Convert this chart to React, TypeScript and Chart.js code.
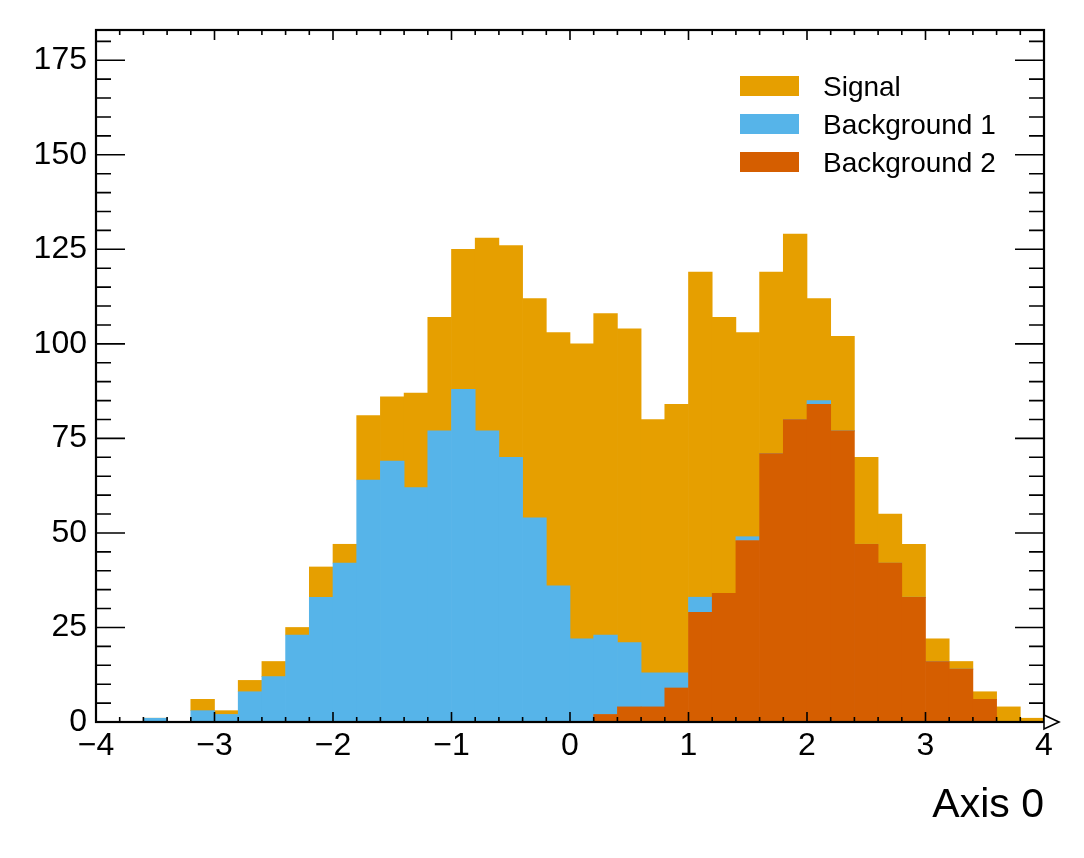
import { useEffect, useRef } from "react";
import { Chart, registerables } from "chart.js";

Chart.register(...registerables);

// bin centres of the 40 bins from -4 to 4
const binCenters = [
  -3.9, -3.7, -3.5, -3.3, -3.1, -2.9, -2.7, -2.5, -2.3, -2.1,
  -1.9, -1.7, -1.5, -1.3, -1.1, -0.9, -0.7, -0.5, -0.3, -0.1,
  0.1, 0.3, 0.5, 0.7, 0.9, 1.1, 1.3, 1.5, 1.7, 1.9,
  2.1, 2.3, 2.5, 2.7, 2.9, 3.1, 3.3, 3.5, 3.7, 3.9,
];

const background2 = [
  0, 0, 0, 0, 0, 0, 0, 0, 0, 0,
  0, 0, 0, 0, 0, 0, 0, 0, 0, 0,
  0, 2, 4, 4, 9, 29, 34, 48, 71, 80,
  84, 77, 47, 42, 33, 16, 14, 6, 0, 0,
];

const background1 = [
  0, 0, 1, 0, 3, 2, 8, 12, 23, 33,
  42, 64, 69, 62, 77, 88, 77, 70, 54, 36,
  22, 21, 17, 9, 4, 4, 0, 1, 0, 0,
  1, 0, 0, 0, 0, 0, 0, 0, 0, 0,
];

const signal = [
  0, 0, 0, 0, 3, 1, 3, 4, 2, 8,
  5, 17, 17, 25, 30, 37, 51, 56, 58, 67,
  78, 85, 83, 67, 71, 86, 73, 54, 48, 49,
  27, 25, 23, 13, 14, 6, 2, 2, 4, 1,
];

const xMajorTicks = [-4, -3, -2, -1, 0, 1, 2, 3, 4];
const yMajorTicks = [0, 25, 50, 75, 100, 125, 150, 175];
const yMax = 183;

const FONT = "'Liberation Sans', Arial, Helvetica, sans-serif";

// ROOT-like frame: inward ticks on all four sides, overflow arrow, legend
const rootFrame = {
  id: "rootFrame",
  afterDatasetsDraw(chart: any) {
    const { ctx, chartArea: a, scales } = chart;
    const xs = scales.x;
    const ys = scales.y;
    ctx.save();
    ctx.strokeStyle = "#000";
    ctx.lineWidth = 1.6;
    ctx.beginPath();
    for (let v = 0; v <= yMax; v += 5) {
      const py = ys.getPixelForValue(v);
      const len = v % 25 === 0 ? 29 : 15;
      ctx.moveTo(a.left, py);
      ctx.lineTo(a.left + len, py);
      ctx.moveTo(a.right - len, py);
      ctx.lineTo(a.right, py);
    }
    for (let i = 0; i <= 40; i++) {
      const px = xs.getPixelForValue(-4 + i * 0.2);
      const len = i % 5 === 0 ? 10 : 5;
      ctx.moveTo(px, a.bottom);
      ctx.lineTo(px, a.bottom - len);
      ctx.moveTo(px, a.top);
      ctx.lineTo(px, a.top + len);
    }
    ctx.stroke();

    ctx.lineWidth = 2.2;
    ctx.strokeRect(a.left, a.top, a.right - a.left, a.bottom - a.top);

    // overflow hint
    ctx.lineWidth = 1.6;
    ctx.beginPath();
    ctx.moveTo(a.right, a.bottom - 7);
    ctx.lineTo(a.right + 15, a.bottom);
    ctx.lineTo(a.right, a.bottom + 7);
    ctx.closePath();
    ctx.fillStyle = "#fff";
    ctx.fill();
    ctx.stroke();

    // legend, top entry = last dataset
    const items = [...chart.data.datasets].reverse();
    ctx.font = `28px ${FONT}`;
    ctx.textBaseline = "alphabetic";
    ctx.textAlign = "left";
    items.forEach((ds: any, i: number) => {
      const bottom = a.top + 66 + i * 38;
      ctx.fillStyle = ds.backgroundColor;
      ctx.fillRect(a.right - 304, bottom - 20, 59, 20);
      ctx.fillStyle = "#000";
      ctx.fillText(ds.label, a.right - 221, bottom);
    });
    ctx.restore();
  },
};

export default function App() {
  const canvasEl = useRef<HTMLCanvasElement>(null);

  useEffect(() => {
    const chart = new Chart(canvasEl.current!, {
      type: "bar",
      data: {
        datasets: [
          {
            label: "Background 2",
            data: binCenters.map((x, i) => ({ x, y: background2[i] })),
            backgroundColor: "#D55E00",
          },
          {
            label: "Background 1",
            data: binCenters.map((x, i) => ({ x, y: background1[i] })),
            backgroundColor: "#56B4E9",
          },
          {
            label: "Signal",
            data: binCenters.map((x, i) => ({ x, y: signal[i] })),
            backgroundColor: "#E69F00",
          },
        ],
      },
      options: {
        animation: false,
        responsive: true,
        maintainAspectRatio: false,
        events: [],
        barPercentage: 1,
        categoryPercentage: 1,
        borderWidth: 0,
        layout: { padding: { top: 30, right: 40, left: 0, bottom: 0 } },
        plugins: { legend: { display: false }, tooltip: { enabled: false } },
        scales: {
          x: {
            type: "linear",
            stacked: true,
            offset: false,
            min: -4,
            max: 4,
            grid: { display: false, drawTicks: false, offset: false },
            border: { display: false },
            afterBuildTicks: (scale: any) => {
              scale.ticks = xMajorTicks.map((value) => ({ value }));
            },
            afterFit: (scale: any) => {
              scale.height = 136;
            },
            ticks: {
              color: "#000",
              font: { size: 32, family: FONT },
              padding: 5,
              maxRotation: 0,
              autoSkip: false,
              callback: (v: any) => String(v).replace("-", "\u2212"),
            },
            title: {
              display: true,
              text: "Axis 0",
              align: "end",
              color: "#000",
              font: { size: 41, family: FONT },
              padding: { top: 0, bottom: 28 },
            },
          },
          y: {
            stacked: true,
            min: 0,
            max: yMax,
            grid: { display: false, drawTicks: false },
            border: { display: false },
            afterBuildTicks: (scale: any) => {
              scale.ticks = yMajorTicks.map((value) => ({ value }));
            },
            afterFit: (scale: any) => {
              scale.width = 96;
            },
            ticks: {
              color: "#000",
              font: { size: 32, family: FONT },
              padding: 9,
            },
          },
        },
      },
      plugins: [rootFrame],
    } as any);
    return () => {
      chart.destroy();
    };
  }, []);

  return (
    <div style={{ position: "absolute", left: 0, top: 0, width: 1084, height: 858, background: "#fff" }}>
      <canvas ref={canvasEl} />
    </div>
  );
}
